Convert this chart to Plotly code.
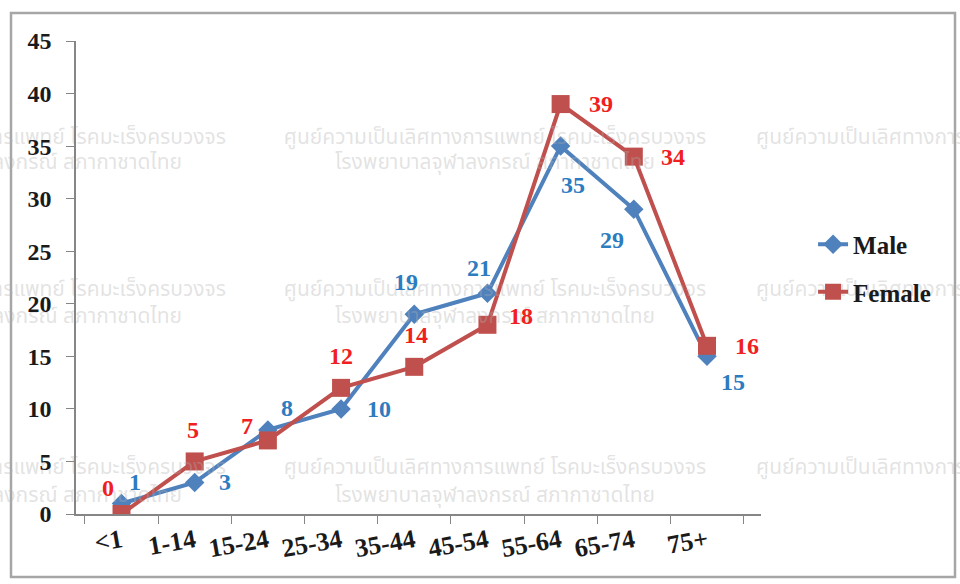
import plotly.graph_objects as go

# Age groups and counts
age_groups = ['<1', '1-14', '15-24', '25-34', '35-44', '45-54', '55-64', '65-74', '75+']
male = [1, 3, 8, 10, 19, 21, 35, 29, 15]
female = [0, 5, 7, 12, 14, 18, 39, 34, 16]

# label offsets in pixels (dx, dy) so numbers sit where the original had them
male_offsets = [(13, -21), (30, 0), (19, -22), (38, 0), (-8, -32), (-8, -25), (12, 39), (-22, 31), (26, 26)]
female_offsets = [(-14, -26), (-2, -31), (-21, -14), (0, -32), (2, -32), (34, -9), (40, 0), (39, 0), (40, 0)]

wm_line1 = 'ศูนย์ความเป็นเลิศทางการแพทย์ โรคมะเร็งครบวงจร'
wm_line2 = 'โรงพยาบาลจุฬาลงกรณ์ สภากาชาดไทย'

serif = 'Liberation Serif, Times New Roman, serif'
L, W, B, H = 76, 685, 514, 473

fig = go.Figure()

# watermark tiles, drawn on a hidden pixel-scaled axis pair so they can run off the edges
# (left tile anchored at its right end, right tile at its left start)
tiles = [
    ((226, 182), 'middle left'),
    ((495, 495), 'middle center'),
    ((756, 802), 'middle right'),
]
wm_x, wm_y, wm_t, wm_pos = [], [], [], []
for (x1, x2), pos in tiles:
    for y1, y2 in [(139, 164), (291, 318), (469, 497)]:
        wm_x += [x1, x2]
        wm_y += [y1, y2]
        wm_t += [wm_line1, wm_line2]
        wm_pos += [pos, pos]
fig.add_trace(go.Scatter(
    x=wm_x, y=wm_y, text=wm_t, mode='text', textposition=wm_pos,
    xaxis='x2', yaxis='y2', showlegend=False, hoverinfo='skip', cliponaxis=False,
    textfont=dict(family='Noto Sans Thai, Noto Sans, DejaVu Sans, sans-serif', size=21,
                  color='rgba(175,175,175,0.36)')
))

fig.add_trace(go.Scatter(
    x=age_groups, y=male, name='Male', mode='lines+markers', legendgroup='m',
    line=dict(color='#4F81BD', width=4),
    marker=dict(symbol='diamond', size=15, color='#4F81BD')
))
fig.add_trace(go.Scatter(
    x=age_groups, y=female, name='Female', mode='lines+markers', legendgroup='f',
    line=dict(color='#C0504D', width=4),
    marker=dict(symbol='square', size=18, color='#C0504D')
))

annotations = []
for cat, v, (dx, dy) in zip(age_groups, male, male_offsets):
    annotations.append(dict(x=cat, y=v, text=str(v), showarrow=False, xshift=dx, yshift=-dy,
                            font=dict(family=serif, size=24, color='#2E7CC0', weight='bold')))
for cat, v, (dx, dy) in zip(age_groups, female, female_offsets):
    annotations.append(dict(x=cat, y=v, text=str(v), showarrow=False, xshift=dx, yshift=-dy,
                            font=dict(family=serif, size=24, color='#F0201E', weight='bold')))

fig.update_layout(
    width=960, height=584,
    margin=dict(l=L, r=960 - L - W, t=B - H, b=584 - B),
    plot_bgcolor='white', paper_bgcolor='white',
    font=dict(family=serif, size=20, color='#1a1a1a'),
    annotations=annotations,
    legend=dict(x=1.076, y=0.52, yanchor='middle', xanchor='left', tracegroupgap=12,
                font=dict(family=serif, size=25, color='#1a1a1a', weight='bold'),
                bgcolor='rgba(0,0,0,0)'),
    xaxis=dict(
        type='category', tickson='boundaries', ticks='outside', ticklen=8, automargin=False,
        tickcolor='#868686', showline=True, linecolor='#868686', linewidth=1.5,
        showgrid=False, tickangle=-10,
        tickfont=dict(family=serif, size=26, color='#1a1a1a', weight='bold')
    ),
    yaxis=dict(
        range=[0, 45], dtick=5, ticks='outside', ticklen=8, tickcolor='#868686', automargin=False,
        showline=True, linecolor='#868686', linewidth=1.5, showgrid=False, zeroline=False,
        ticklabelstandoff=10,
        tickfont=dict(family=serif, size=24, color='#1a1a1a', weight='bold')
    ),
    xaxis2=dict(overlaying='x', range=[L, L + W], visible=False, fixedrange=True),
    yaxis2=dict(overlaying='y', range=[B, B - H], visible=False, fixedrange=True),
    shapes=[dict(type='rect', xref='paper', yref='paper',
                 x0=(11 - L) / W, x1=(955 - L) / W, y0=(B - 577) / H, y1=(B - 13) / H,
                 line=dict(color='#a6a6a6', width=2.5), layer='below')]
)

fig.write_html('out.html', config={'displayModeBar': False},
               post_script="document.body.style.margin='0';")
